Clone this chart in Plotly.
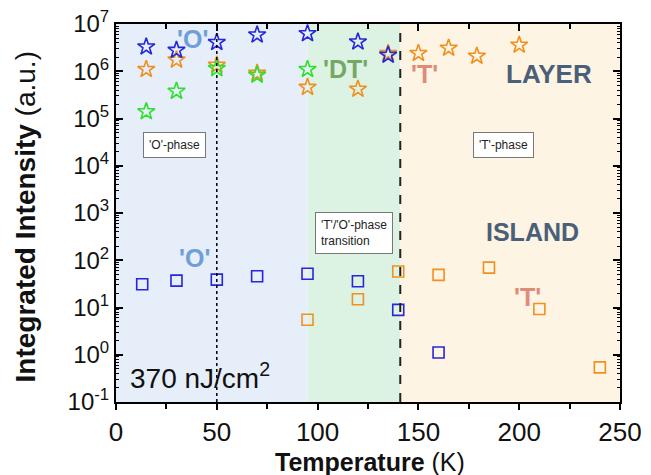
import plotly.graph_objects as go

# Layer (stars)
layer_blue_T = [15, 30, 50, 70, 95, 120, 135]
layer_blue_I = [3.3e6, 2.8e6, 4.1e6, 5.9e6, 6.3e6, 4.2e6, 2.2e6]
layer_orange_T = [15, 30, 50, 70, 95, 120, 135, 150, 165, 179, 200]
layer_orange_I = [1.1e6, 1.74e6, 1.35e6, 9.1e5, 4.6e5, 4.2e5, 2.4e6, 2.4e6, 3.1e6, 2.1e6, 3.6e6]
layer_green_T = [15, 30, 50, 70, 95]
layer_green_I = [1.4e5, 3.8e5, 1.15e6, 8.3e5, 1.1e6]

# Island (squares)
island_blue_T = [13, 30, 50, 70, 95, 120, 140, 160]
island_blue_I = [31, 37, 39, 46, 52, 36, 8.9, 1.12]
island_orange_T = [95, 120, 140, 160, 185, 210, 240]
island_orange_I = [5.5, 15, 58, 49, 70, 9.3, 0.54]

x_ticks = [0, 50, 100, 150, 200, 250]
y_exps = [-1, 0, 1, 2, 3, 4, 5, 6, 7]

BLUE = "#2626dc"
ORANGE = "#f0901e"
GREEN = "#2ee02e"

fig = go.Figure()

def add(T, I, sym, col, size):
    fig.add_trace(go.Scatter(x=T, y=I, mode="markers", showlegend=False,
                             marker=dict(symbol=sym, size=size, color=col,
                                         line=dict(color=col, width=1.6))))

add(layer_orange_T, layer_orange_I, "star-open", ORANGE, 13)
add(layer_green_T, layer_green_I, "star-open", GREEN, 13)
add(layer_blue_T, layer_blue_I, "star-open", BLUE, 13)
add(island_orange_T, island_orange_I, "square-open", ORANGE, 11)
add(island_blue_T, island_blue_I, "square-open", BLUE, 11)

# dummy trace for top/right axes
fig.add_trace(go.Scatter(x=[None], y=[None], xaxis="x2", yaxis="y2", showlegend=False))

shapes = [
    dict(type="rect", xref="x", yref="paper", x0=0, x1=95, y0=0, y1=1,
         fillcolor="#e5eef9", line_width=0, layer="below"),
    dict(type="rect", xref="x", yref="paper", x0=95, x1=141, y0=0, y1=1,
         fillcolor="#dcf3e4", line_width=0, layer="below"),
    dict(type="rect", xref="x", yref="paper", x0=141, x1=250, y0=0, y1=1,
         fillcolor="#fef4e3", line_width=0, layer="below"),
    dict(type="line", xref="x", yref="paper", x0=50, x1=50, y0=0, y1=1,
         line=dict(color="black", width=1.5, dash="dot")),
    dict(type="line", xref="x", yref="paper", x0=141, x1=141, y0=0, y1=1,
         line=dict(color="#222", width=2, dash="dash")),
]

F = "Arial, Liberation Sans, sans-serif"
ann = []
def big(text, x, y, col, size=25):
    ann.append(dict(x=x, y=y, xref="x", yref="y", text="<b>%s</b>" % text, showarrow=False,
                    font=dict(family=F, size=size, color=col)))
big("'O'", 37.7, 6.68, "#6f9fd8")
big("'O'", 39, 2.05, "#6f9fd8")
big("'DT'", 113.7, 6.05, "#74a865")
big("'T'", 153, 5.94, "#e08a7c")
big("'T'", 204, 1.23, "#e08a7c")
big("LAYER", 215, 5.94, "#4a6078", 26)
big("ISLAND", 206.6, 2.6, "#4a6078", 25)

def box(text, x, y):
    ann.append(dict(x=x, y=y, xref="x", yref="y", text=text, showarrow=False, align="left",
                    font=dict(family=F, size=12, color="#222"), bgcolor="white",
                    bordercolor="#777", borderwidth=1, borderpad=5))
box("'O'-phase", 29, 4.44)
box("'T'-phase", 192, 4.44)
box("'T'/'O'-phase<br>transition", 118.3, 2.58)

ann.append(dict(x=41.6, y=-0.46, xref="x", yref="y", text="370 nJ/cm<sup>2</sup>", showarrow=False,
                font=dict(family=F, size=28, color="#111")))

# axis titles as annotations (pixel-placed)
ann.append(dict(x=0.504, y=-0.16, xref="paper", yref="paper", text="<b>Temperature</b> (K)",
                showarrow=False, xanchor="center", yanchor="middle",
                font=dict(family=F, size=25, color="#111")))
ann.append(dict(x=-0.18, y=0.489, xref="paper", yref="paper", text="<b>Integrated Intensity</b> (a.u.)",
                showarrow=False, xanchor="center", yanchor="middle", textangle=-90,
                font=dict(family=F, size=28, color="#111")))

YR = [-1, 7.0005]

fig.update_layout(
    width=643, height=467,
    margin=dict(l=108, r=31, t=16, b=73, autoexpand=False),
    paper_bgcolor="white", plot_bgcolor="white",
    shapes=shapes, annotations=ann,
    font=dict(family=F, color="#111"),
    xaxis=dict(range=[0, 250], tickvals=x_ticks, ticks="outside", ticklen=6, tickwidth=2,
               tickcolor="black", showline=True, linecolor="black", linewidth=2,
               showgrid=False, zeroline=False, tickfont=dict(size=26, family=F),
               ticklabeloverflow="allow", automargin=False,
               minor=dict(ticks="outside", ticklen=5, tickwidth=1.5, dtick=25, tickcolor="black")),
    xaxis2=dict(range=[0, 250], overlaying="x", side="top", tickvals=x_ticks, ticks="inside",
                ticklen=7, tickwidth=2, tickcolor="black", showticklabels=False, showline=True,
                linecolor="black", linewidth=2, showgrid=False, zeroline=False, automargin=False,
                minor=dict(ticks="inside", ticklen=5, tickwidth=1.5, dtick=25, tickcolor="black")),
    yaxis=dict(type="log", range=YR, tickvals=[10 ** e for e in y_exps],
               ticktext=["10<sup>%d</sup>" % e for e in y_exps],
               ticks="inside", ticklen=7, tickwidth=2, tickcolor="black",
               showline=True, linecolor="black", linewidth=2, showgrid=False, zeroline=False,
               tickfont=dict(size=24, family=F), ticklabeloverflow="allow", automargin=False,
               minor=dict(ticks="inside", ticklen=3, tickwidth=1, tickcolor="black", dtick="D1")),
    yaxis2=dict(type="log", range=YR, overlaying="y", side="right", anchor="x",
                tickvals=[10 ** e for e in y_exps], ticks="inside", ticklen=7, tickwidth=2,
                tickcolor="black", showticklabels=False, showline=True, linecolor="black",
                linewidth=2, showgrid=False, zeroline=False, automargin=False,
                minor=dict(ticks="inside", ticklen=3, tickwidth=1, tickcolor="black", dtick="D1")),
)

fig.write_html("out.html")
